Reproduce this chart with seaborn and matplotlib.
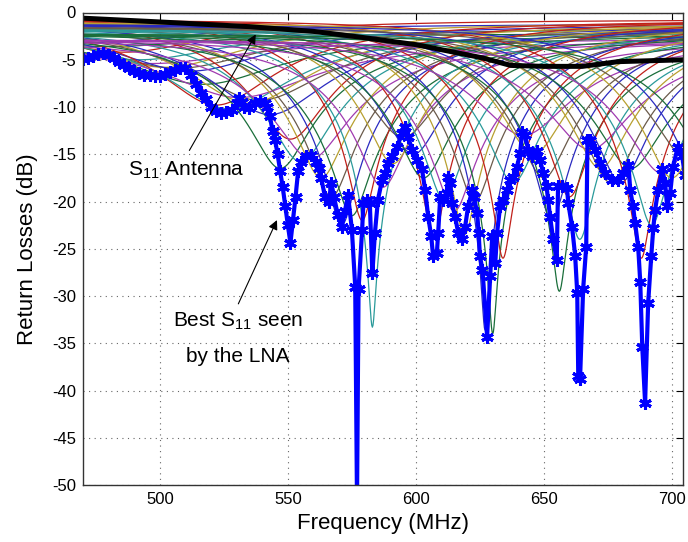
import numpy as np
import pandas as pd
import matplotlib
matplotlib.use("Agg")
import matplotlib.pyplot as plt
import seaborn as sns

# ---------------- data ----------------
# Best S11 seen by the LNA (blue, markers)
best_freq = [470, 472, 474, 476, 478, 480, 482, 484, 486, 488, 490, 492, 494, 496, 498,
             500, 502, 504, 506, 508, 510, 512, 514, 516, 518, 520, 522, 524, 526, 528,
             530, 531, 532, 533, 535, 537, 539, 541, 542, 543, 544, 545, 546, 547, 548,
             549, 550, 551, 552, 553, 554, 555, 557, 559, 561, 562, 563, 564.5, 566, 567,
             568, 569.5, 571, 572.3, 573.5, 575, 576.3, 577, 577.6, 579, 579.5, 581, 582,
             583, 584, 585.2, 586.8, 588, 589, 590.7, 592.6, 594.6, 595.8, 597, 598.5,
             600.5, 602.4, 603.6, 604.8, 606, 606.7, 608.2, 608.7, 609.5, 610.6, 612,
             612.6, 613.4, 614.1, 615.3, 616.5, 618, 619.2, 620.4, 622, 622.7, 623.9,
             624.5, 625, 626, 627.8, 629, 629.8, 631, 631.7, 632.9, 634, 635.6, 636.8,
             638, 639.5, 640.7, 641.5, 642.7, 643.8, 645.4, 647.3, 648.5, 649.7, 651,
             651.6, 652.4, 653.6, 655, 655.5, 657, 659, 659.5, 661, 662.2, 663, 663.4,
             664.1, 665.3, 666.5, 667, 668, 670, 672, 674, 676.6, 679, 681, 683, 683.7,
             684.8, 685.6, 686.8, 687.6, 688.4, 689.5, 690.7, 691.9, 692.7, 693.4, 694.6,
             696.2, 697.3, 698.1, 699.3, 700.4, 702.3, 704, 705]
best_db = [-4.9, -4.8, -4.6, -4.4, -4.3, -4.5, -4.8, -5.2, -5.6, -5.9, -6.2, -6.4, -6.6, -6.6, -6.7,
           -6.7, -6.5, -6.3, -6.1, -5.9, -5.9, -6.6, -7.6, -8.5, -9.2, -10.0, -10.4, -10.6, -10.5, -10.3,
           -9.6, -9.1, -9.5, -10.0, -10.1, -9.6, -9.4, -9.6, -10.0, -11.0, -12.5, -13.5, -15.0, -16.8, -18.5,
           -20.5, -22.5, -24.4, -22.0, -19.5, -16.8, -15.8, -15.2, -15.1, -15.8, -16.5, -17.5, -19.5, -20.0, -18.0,
           -19.5, -21.4, -22.7, -21.0, -19.3, -23.0, -29.0, -52.0, -29.3, -23.0, -20.2, -19.8, -20.2,
           -27.6, -23.3, -19.8, -17.7, -17.0, -15.9, -15.2, -14.2, -12.8, -12.1, -13.2, -14.5,
           -15.6, -16.6, -18.8, -21.6, -23.7, -25.8, -25.4, -23.3, -19.5, -19.8, -19.1,
           -17.4, -18.0, -20.2, -21.6, -23.3, -24.0, -22.7, -20.5, -18.8, -19.5, -21.2,
           -23.3, -25.8, -27.2, -34.3, -27.9, -23.7, -26.5, -23.3, -20.5, -19.8, -18.8, -17.7,
           -17.4, -16.3, -14.9, -12.6, -13.0, -14.5, -15.2, -14.7, -15.6, -17.0, -18.4,
           -19.8, -21.6, -24.0, -26.2, -18.4, -18.4, -18.6, -20.2, -22.7, -25.8, -29.7, -38.5,
           -38.8, -29.3, -24.8, -13.5, -13.5, -14.5, -15.9, -17.0, -17.7, -17.7, -17.0, -16.1, -18.8,
           -20.5, -22.3, -24.8, -28.5, -35.4, -41.3, -30.7, -25.8, -22.8, -20.9, -18.8,
           -16.6, -18.0, -20.5, -19.1, -16.3, -14.2, -15.2, -17.2]

# S11 of the antenna alone (black)
ant_freq = [470, 500, 535, 560, 578, 600, 613, 626, 637, 650, 665, 679, 705]
ant_db = [-0.6, -1.0, -1.5, -2.0, -2.6, -3.4, -4.1, -4.8, -5.6, -5.7, -5.7, -5.2, -5.0]

# individual tuning states: notch frequency, notch depth, off-resonance level, sharpness
notch_center = [474, 480, 486, 492, 497, 502, 507, 512, 517, 522, 527, 531, 535, 539, 543,
                547, 551, 555, 559, 563, 567, 571, 575, 579, 583, 587, 591, 595, 599, 603,
                607, 611, 615, 619, 623, 627, 630, 634, 638, 642, 646, 650, 653, 656, 660,
                664, 668, 672, 676, 680, 684, 688, 692, 696, 700, 706, 712, 720]
notch_depth = [-3.2, -3.6, -4.2, -5.0, -5.4, -5.8, -5.9, -6.2, -7.6, -9.8, -10.2, -9.0, -9.6, -9.3, -10.8,
               -16.5, -13.4, -15.8, -15.5, -17.5, -19.5, -22.5, -21.5, -22.0, -33.3, -18.5, -16.0, -13.2, -15.0, -17.5,
               -24.0, -19.8, -21.0, -23.5, -20.0, -33.6, -34.0, -26.0, -18.0, -13.0, -15.0, -17.5, -22.0, -29.5, -19.5,
               -24.0, -14.5, -16.5, -18.0, -18.0, -16.5, -26.0, -22.5, -17.0, -17.5, -15.5, -18.0, -20.0]
level_cycle = [-1.2, -2.2, -0.7, -1.7, -2.8, -1.0, -1.5]
notch_q = [5.0] * 15 + [6.0] * 8 + [7.0] * 35

line_colors = ["#2a2ac0", "#1a6e3a", "#c0201a", "#2a9a9a", "#a03ab0", "#b8a030", "#6a5a4a"]

# ---------------- build frames ----------------
fgrid = np.linspace(470, 705, 941)
rows = []
for i, (fc, dep, q) in enumerate(zip(notch_center, notch_depth, notch_q)):
    top = level_cycle[i % len(level_cycle)]
    u = q * (fgrid / fc - fc / fgrid)
    T = 10 ** (top / 10)
    a2 = 10 ** (dep / 10) / T
    val = 10 * np.log10(T * (a2 + u ** 2) / (1 + u ** 2))
    rows.append(pd.DataFrame({"f": fgrid, "db": val, "state": i}))
states = pd.concat(rows, ignore_index=True)
pal = {i: line_colors[i % len(line_colors)] for i in range(len(notch_center))}

best = pd.DataFrame({"f": best_freq, "db": best_db})
ant = pd.DataFrame({"f": ant_freq, "db": ant_db})

# ---------------- plot ----------------
sns.set_theme(style="white")
plt.rcParams["font.family"] = ["Liberation Sans", "DejaVu Sans"]
plt.rcParams["mathtext.default"] = "regular"
plt.rcParams["axes.unicode_minus"] = False
plt.rcParams["text.color"] = "black"
plt.rcParams["axes.labelcolor"] = "black"
plt.rcParams["xtick.color"] = "black"
plt.rcParams["ytick.color"] = "black"

fig = plt.figure(figsize=(6.88, 5.42), dpi=100)
ax = fig.add_axes([83 / 688, 57 / 542, 600 / 688, 472.5 / 542])

sns.lineplot(data=states, x="f", y="db", hue="state", palette=pal, estimator=None,
             sort=False, legend=False, linewidth=0.9, ax=ax)
sns.lineplot(data=ant, x="f", y="db", color="black", linewidth=3.6, estimator=None,
             sort=False, ax=ax)
sns.lineplot(data=best, x="f", y="db", color="#0000ff", linewidth=3.0, estimator=None,
             sort=False, marker=(6, 2, 0), markersize=9, markeredgewidth=2.2,
             markeredgecolor="#0000ff", ax=ax)

ax.set_xlim(470, 704.3)
ax.set_ylim(-50, 0)
ax.set_xticks([500, 550, 600, 650, 700])
ax.set_yticks(list(range(-50, 1, 5)))
ax.grid(True, linestyle=(0, (1, 4)), color="#666666", linewidth=0.8)
ax.tick_params(direction="in", top=True, right=True, length=5, width=0.8,
               labelsize=12, colors="black", pad=5)
for s in ax.spines.values():
    s.set_color("#333333")
    s.set_linewidth(1.0)
ax.set_xlabel("Frequency (MHz)", fontsize=16, labelpad=4, color="black")
ax.set_ylabel("Return Losses (dB)", fontsize=16, labelpad=10, color="black")

ax.text(487.6, -17.3, "S$_{11}$ Antenna", fontsize=15, ha="left", va="baseline", color="black")
ax.annotate("", xy=(538.0, -2.06), xytext=(511.0, -14.85),
            arrowprops=dict(arrowstyle="-|>", color="black", lw=0.8, mutation_scale=14))
ax.text(530.4, -33.3, "Best S$_{11}$ seen", fontsize=15, ha="center", va="baseline", color="black")
ax.text(530.4, -37.0, "by the LNA", fontsize=15, ha="center", va="baseline", color="black")
ax.annotate("", xy=(546.2, -21.7), xytext=(530.2, -31.1),
            arrowprops=dict(arrowstyle="-|>", color="black", lw=0.8, mutation_scale=14))

fig.savefig("out.png", dpi=100)
